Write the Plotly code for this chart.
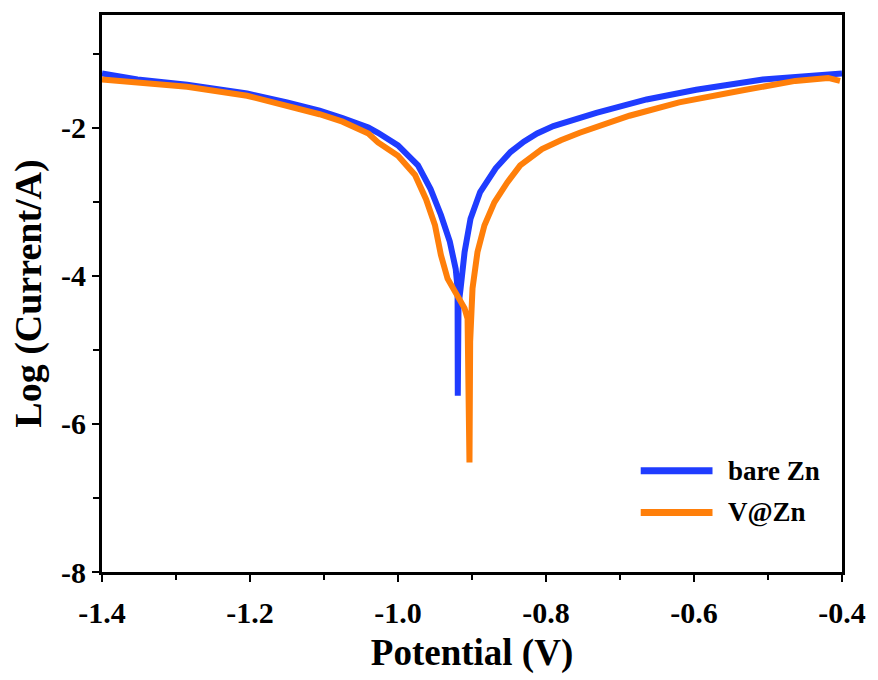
import plotly.graph_objects as go

# bare Zn : potential (V) / log(current)
bare_x = [-1.400, -1.352, -1.285, -1.204, -1.150, -1.106, -1.075, -1.055, -1.040, -1.027, -1.000, -0.973,
          -0.956, -0.942, -0.930, -0.922, -0.9195, -0.9192, -0.9182, -0.9154, -0.910, -0.902,
          -0.889, -0.868, -0.848, -0.830, -0.812, -0.790, -0.765, -0.732, -0.664, -0.597, -0.507,
          -0.450, -0.405, -0.400]
bare_y = [-1.27, -1.35, -1.42, -1.54, -1.66, -1.77, -1.87, -1.94, -2.00, -2.07, -2.24, -2.51,
          -2.83, -3.18, -3.54, -3.91, -4.17, -5.62, -4.40, -4.17, -3.68, -3.23,
          -2.87, -2.55, -2.33, -2.19, -2.08, -1.98, -1.90, -1.80, -1.62, -1.49, -1.35,
          -1.31, -1.27, -1.27]

# V@Zn
vzn_x = [-1.400, -1.352, -1.285, -1.204, -1.150, -1.106, -1.075, -1.055, -1.040, -1.027, -1.000, -0.977,
         -0.962, -0.950, -0.942, -0.933, -0.9195, -0.910, -0.906, -0.9034, -0.9025, -0.8993,
         -0.8926, -0.8832, -0.8698, -0.8523, -0.8349, -0.8200, -0.8054, -0.7800, -0.7544, -0.6872,
         -0.6201, -0.5302, -0.4631, -0.4188, -0.4027]
vzn_y = [-1.35, -1.40, -1.45, -1.57, -1.70, -1.82, -1.92, -2.00, -2.08, -2.20, -2.38, -2.64,
         -2.97, -3.32, -3.72, -4.04, -4.26, -4.44, -4.58, -6.52, -4.89, -4.17,
         -3.68, -3.32, -3.01, -2.74, -2.51, -2.39, -2.29, -2.17, -2.07, -1.84,
         -1.66, -1.49, -1.37, -1.33, -1.37]

x_ticks = [-1.4, -1.2, -1.0, -0.8, -0.6, -0.4]
x_labels = ["-1.4", "-1.2", "-1.0", "-0.8", "-0.6", "-0.4"]
y_ticks = [-8, -6, -4, -2]
y_labels = ["-8", "-6", "-4", "-2"]

series_names = ["bare Zn", "V@Zn"]
series_colors = ["#1f3cff", "#ff7f0a"]

FONT = "Liberation Serif"

fig = go.Figure()
for xs, ys, name, col in [(bare_x, bare_y, series_names[0], series_colors[0]),
                          (vzn_x, vzn_y, series_names[1], series_colors[1])]:
    fig.add_trace(go.Scatter(x=xs, y=ys, mode="lines", name=name,
                             line=dict(color=col, width=6), showlegend=False))

# legend drawn as line samples + text (longer sample lines than the default legend)
leg_y = [0.182, 0.107]
for name, col, yy in zip(series_names, series_colors, leg_y):
    fig.add_shape(type="line", xref="paper", yref="paper", x0=0.728, x1=0.825, y0=yy, y1=yy,
                  line=dict(color=col, width=7))
    fig.add_annotation(xref="paper", yref="paper", x=0.843, y=yy, text="<b>" + name + "</b>",
                       showarrow=False, xanchor="left", yanchor="middle",
                       font=dict(family=FONT, size=27, color="black"))

fig.update_layout(
    width=878, height=680,
    margin=dict(l=102, r=31, t=12, b=108),
    paper_bgcolor="white", plot_bgcolor="white",
    font=dict(family=FONT, color="black", size=24),
    showlegend=False,
)
fig.update_xaxes(
    range=[-1.4, -0.4], tickvals=x_ticks, ticktext=["<b>" + t + "</b>" for t in x_labels],
    showline=True, linecolor="black", linewidth=3, mirror=True,
    ticks="outside", ticklen=7, tickwidth=2, tickcolor="black",
    minor=dict(ticks="outside", ticklen=5, tickwidth=2, dtick=0.1, tickcolor="black"),
    showgrid=False, zeroline=False, ticklabelstandoff=5,
    tickfont=dict(size=30, family=FONT),
    title=dict(text="<b>Potential (V)</b>", font=dict(size=37, family=FONT), standoff=12),
)
fig.update_yaxes(
    range=[-8, -0.48], tickvals=y_ticks, ticktext=["<b>" + t + "</b>" for t in y_labels],
    showline=True, linecolor="black", linewidth=3, mirror=True,
    ticks="outside", ticklen=7, tickwidth=2, tickcolor="black",
    minor=dict(ticks="outside", ticklen=6, tickwidth=2, dtick=1, tickcolor="black"),
    showgrid=False, zeroline=False,
    tickfont=dict(size=30, family=FONT),
    title=dict(text="<b>Log (Current/A)</b>", font=dict(size=38, family=FONT), standoff=8),
)

fig.write_html("out.html")
